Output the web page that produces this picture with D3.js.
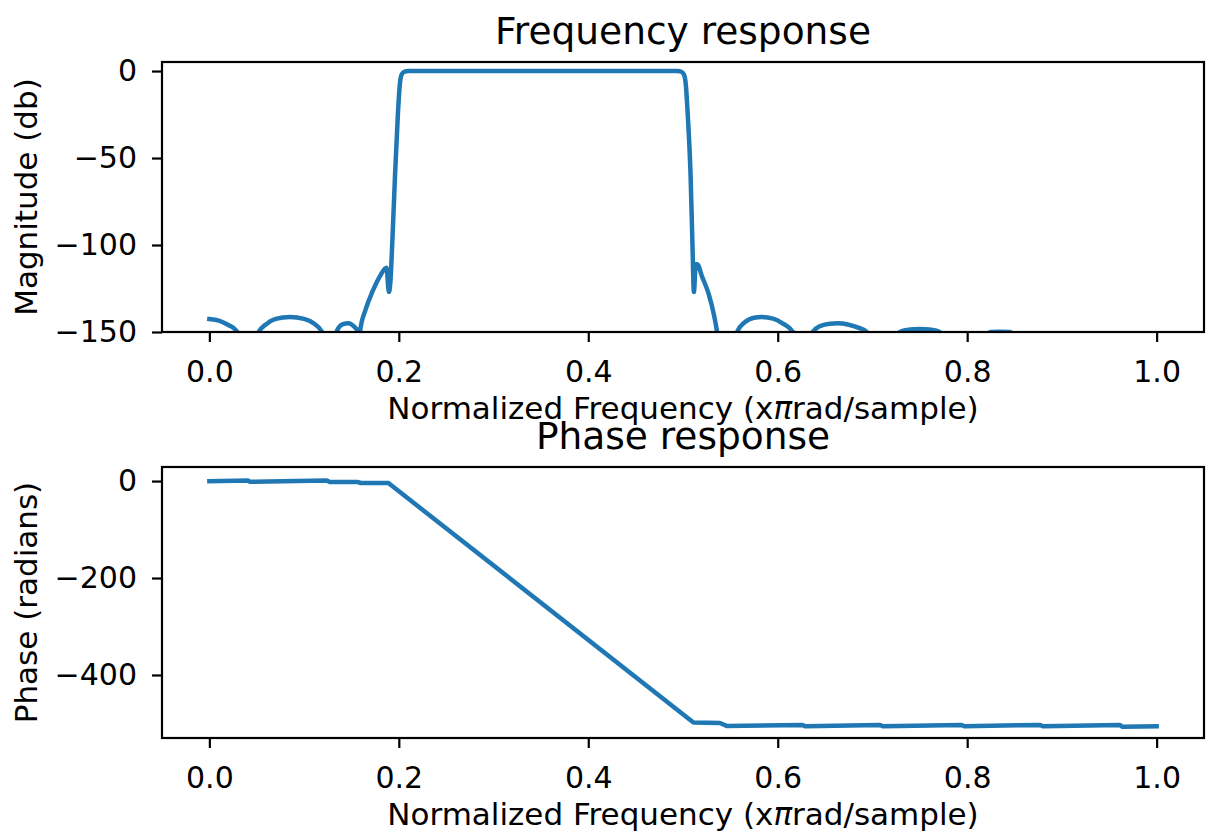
<!DOCTYPE html>
<html>
<head>
<meta charset="utf-8">
<script src="https://cdn.jsdelivr.net/npm/d3@7"></script>
<style>
  body { margin: 0; background: #fff; }
  text { font-family: "DejaVu Sans", sans-serif; fill: #000; }
</style>
</head>
<body>
<svg id="chart" width="1208" height="839"></svg>
<script>
// magnitude response (normalized freq, dB)
var magFreq = [0.000, 0.010, 0.020, 0.028, 0.034, 0.040, 0.046, 0.052, 0.060, 0.070, 0.085, 0.100, 0.110, 0.119, 0.124, 0.128,
  0.131, 0.135, 0.141, 0.147, 0.152, 0.157, 0.158, 0.159, 0.165, 0.172, 0.180, 0.187, 0.1895, 0.191, 0.193, 0.196, 0.199,
  0.201, 0.203, 0.206, 0.210, 0.300, 0.400, 0.494, 0.498, 0.501, 0.503, 0.505, 0.508, 0.510, 0.5115, 0.5135, 0.515, 0.520,
  0.527, 0.533, 0.536, 0.540, 0.546, 0.552, 0.557, 0.565, 0.575, 0.583, 0.595, 0.605, 0.616, 0.622, 0.627, 0.632, 0.637,
  0.645, 0.655, 0.663, 0.675, 0.685, 0.694, 0.700, 0.711, 0.720, 0.729, 0.740, 0.750, 0.760, 0.771, 0.780, 0.795, 0.810,
  0.825, 0.834, 0.845, 0.860, 0.900, 0.950, 1.000];
var magDb = [-142.5, -143.5, -146, -149, -155, -175, -158, -150, -145.5, -142.5, -141.4, -142.5, -145, -150, -158, -170,
  -156, -149, -145.5, -145, -146.5, -150, -170, -150, -137, -127, -118, -113, -127, -122, -100, -60, -25,
  -8, -2, -0.3, 0, 0, 0, 0, -0.3, -2, -8, -25, -60, -100, -127, -111, -111, -118,
  -128, -141, -150, -165, -180, -160, -150, -144.5, -141.8, -141.4, -142.3, -145, -150, -160, -175, -160, -150,
  -146.5, -145.2, -145, -145.8, -147.5, -150, -158, -175, -158, -150, -148.6, -148.3, -148.6, -150, -158, -175, -158,
  -150, -149.8, -150, -160, -175, -170, -175];

// phase response (normalized freq, radians)
var phFreq = [0.000, 0.041, 0.043, 0.124, 0.127, 0.157, 0.160, 0.189, 0.511, 0.539, 0.546, 0.626, 0.629, 0.708, 0.711,
  0.794, 0.797, 0.877, 0.880, 0.961, 0.964, 1.000];
var phRad = [-0.5, 1, -1.5, 1, -2, -2, -4, -4, -498, -499, -505, -503, -506, -503, -506,
  -503, -506, -503, -506, -503, -507, -506];

var xTicks = [0.0, 0.2, 0.4, 0.6, 0.8, 1.0];
var magTicks = [0, -50, -100, -150];
var phTicks = [0, -200, -400];

var svg = d3.select('#chart');
var BLUE = '#1f77b4';
var TICKFONT = 30;
var LABELFONT = 31;

function panel(box, xs, ys, yTicks, yDomain, curve, title, ylabel, clipId){
  var x = d3.scaleLinear().domain([-0.05, 1.05]).range([box.left, box.right]);
  var y = d3.scaleLinear().domain(yDomain).range([box.bottom, box.top]);

  svg.append('clipPath').attr('id', clipId)
    .append('rect')
    .attr('x', box.left).attr('y', box.top)
    .attr('width', box.right - box.left).attr('height', box.bottom - box.top);

  var pts = xs.map(function(f, i){ return [f, ys[i]]; });
  var line = d3.line()
    .x(d => x(d[0]))
    .y(d => y(d[1]))
    .curve(curve);

  svg.append('path')
    .datum(pts)
    .attr('clip-path', 'url(#' + clipId + ')')
    .attr('d', line)
    .attr('fill', 'none')
    .attr('stroke', BLUE)
    .attr('stroke-width', 4.5)
    .attr('stroke-linejoin', 'round')
    .attr('stroke-linecap', 'square');

  var xa = svg.append('g')
    .attr('transform', 'translate(0,' + box.bottom + ')')
    .call(d3.axisBottom(x).tickValues(xTicks).tickFormat(d3.format('.1f')).tickSize(10).tickPadding(19));
  var ya = svg.append('g')
    .attr('transform', 'translate(' + box.left + ',0)')
    .call(d3.axisLeft(y).tickValues(yTicks).tickFormat(d3.format('d')).tickSize(10).tickPadding(15));

  [xa, ya].forEach(function(a){
    a.select('.domain').remove();
    a.selectAll('line').attr('stroke', '#000').attr('stroke-width', 2.2);
    a.selectAll('text').style('font-size', TICKFONT + 'px').attr('fill', '#000');
  });

  svg.append('rect')
    .attr('x', box.left).attr('y', box.top)
    .attr('width', box.right - box.left).attr('height', box.bottom - box.top)
    .attr('fill', 'none').attr('stroke', '#000').attr('stroke-width', 2.2);

  svg.append('text')
    .attr('x', (box.left + box.right) / 2)
    .attr('y', box.top - 18)
    .attr('text-anchor', 'middle')
    .style('font-size', '37.5px')
    .text(title);

  var xl = svg.append('text')
    .attr('x', (box.left + box.right) / 2)
    .attr('y', box.bottom + 87)
    .attr('text-anchor', 'middle')
    .style('font-size', LABELFONT + 'px');
  xl.append('tspan').text('Normalized Frequency (x');
  xl.append('tspan').style('font-style', 'italic').text('π');
  xl.append('tspan').text('rad/sample)');

  svg.append('text')
    .attr('transform', 'translate(37,' + (box.top + box.bottom) / 2 + ') rotate(-90)')
    .attr('text-anchor', 'middle')
    .style('font-size', LABELFONT + 'px')
    .text(ylabel);
}

panel({left: 162, right: 1204, top: 62, bottom: 332}, magFreq, magDb, magTicks, [-150, 5.2], d3.curveMonotoneX,
  'Frequency response', 'Magnitude (db)', 'clipMag');
panel({left: 162, right: 1204, top: 467, bottom: 738}, phFreq, phRad, phTicks, [-530, 29], d3.curveLinear,
  'Phase response', 'Phase (radians)', 'clipPh');
</script>
</body>
</html>
